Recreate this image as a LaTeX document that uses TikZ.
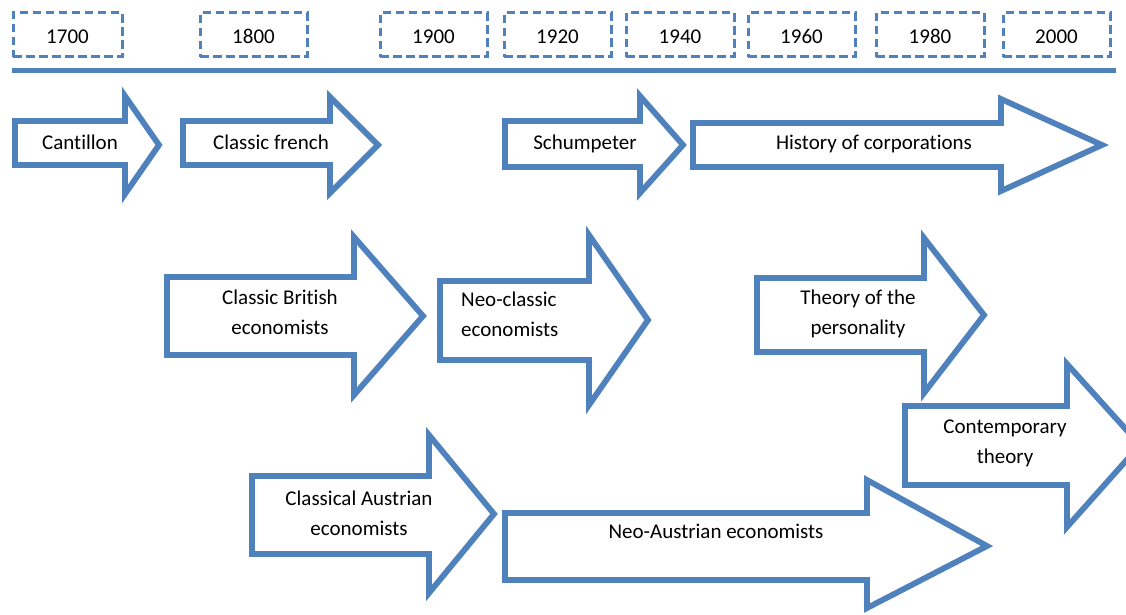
\documentclass[tikz,border=0pt]{standalone}
\usepackage{fontspec}
\setmainfont[Ligatures=NoCommon]{Carlito}
\definecolor{accblue}{HTML}{4F81BD}
\tikzset{
  yearbox/.style={draw=accblue, line width=3pt, dash pattern=on 8.5pt off 4.5pt, inner sep=0pt, minimum height=44pt, text height=18pt, text depth=0pt, text=black},
  arrowline/.style={draw=accblue, line width=5.8pt, fill=white, line join=miter},
  lbl/.style={text=black, align=center, inner sep=0pt, text height=14pt, text depth=5pt},
  lbltwo/.style={text=black, align=center, inner sep=0pt},
}
\newcommand{\blockarr}[8]{%
  \draw[arrowline] (#1,#2) -- (#4,#2) -- (#4,#5) -- (#7,#8) -- (#4,#6) -- (#4,#3) -- (#1,#3) -- cycle;}
\begin{document}
\begin{tikzpicture}[x=1pt,y=-1pt,font=\fontsize{21}{30}\selectfont]
\useasboundingbox (0,0) rectangle (1126,615);
\clip (0,0) rectangle (1126,615);
% year boxes
\node[yearbox, minimum width=109pt] (y1700) at (67.5,35) {1700};
\node[yearbox, minimum width=107pt] (y1800) at (253.5,35) {1800};
\node[yearbox, minimum width=107pt] (y1900) at (433.5,35) {1900};
\node[yearbox, minimum width=107pt] (y1920) at (557.5,35) {1920};
\node[yearbox, minimum width=108pt] (y1940) at (680,35) {1940};
\node[yearbox, minimum width=107pt] (y1960) at (801.5,35) {1960};
\node[yearbox, minimum width=108pt] (y1980) at (930,35) {1980};
\node[yearbox, minimum width=107pt] (y2000) at (1056.5,35) {2000};
% timeline
\coordinate (tl0) at (12,70.5);
\coordinate (tl1) at (1116,70.5);
\draw[accblue, line width=5pt] (tl0) -- (tl1);
% row 1
\blockarr{15}{121}{165}{125}{96}{194}{159}{145}
\node[lbl] (cantillon) at (80,144.5) {Cantillon};
\blockarr{183}{121}{165}{330}{97}{193}{378}{145}
\node[lbl] (clfrench) at (271,144.5) {Classic french};
\blockarr{505}{121}{167}{640}{96}{193}{683}{145}
\node[lbl] (schump) at (585,145) {Schumpeter};
\blockarr{693}{123}{167}{1001}{99}{191}{1102}{145}
\node[lbl] (corps) at (874,144.5) {History of corporations};
% row 2
\blockarr{167}{277}{355}{354}{237}{395}{423}{316}
\node[lbltwo] (british) at (280,312) {Classic British\\economists};
\blockarr{440}{281}{360}{589}{235}{405}{648}{320}
\node[lbltwo, align=left, anchor=west] (neoclassic) at (461,314) {Neo-classic\\economists};
\blockarr{757}{278}{352}{924}{238}{393}{984}{315}
\node[lbltwo] (personality) at (858,314) {Theory of the\\personality};
\blockarr{905}{406}{485}{1067}{364}{527}{1140}{445}
\node[lbltwo] (contemp) at (1005,443) {Contemporary\\theory};
% row 3
\blockarr{252}{476}{554}{429}{435}{593}{494}{514}
\node[lbltwo] (claustrian) at (359,513) {Classical Austrian\\economists};
\blockarr{505}{513}{580}{867}{480}{608}{987}{546}
\node[lbl] (neoaustrian) at (716,533.5) {Neo-Austrian economists};
\end{tikzpicture}
\end{document}
